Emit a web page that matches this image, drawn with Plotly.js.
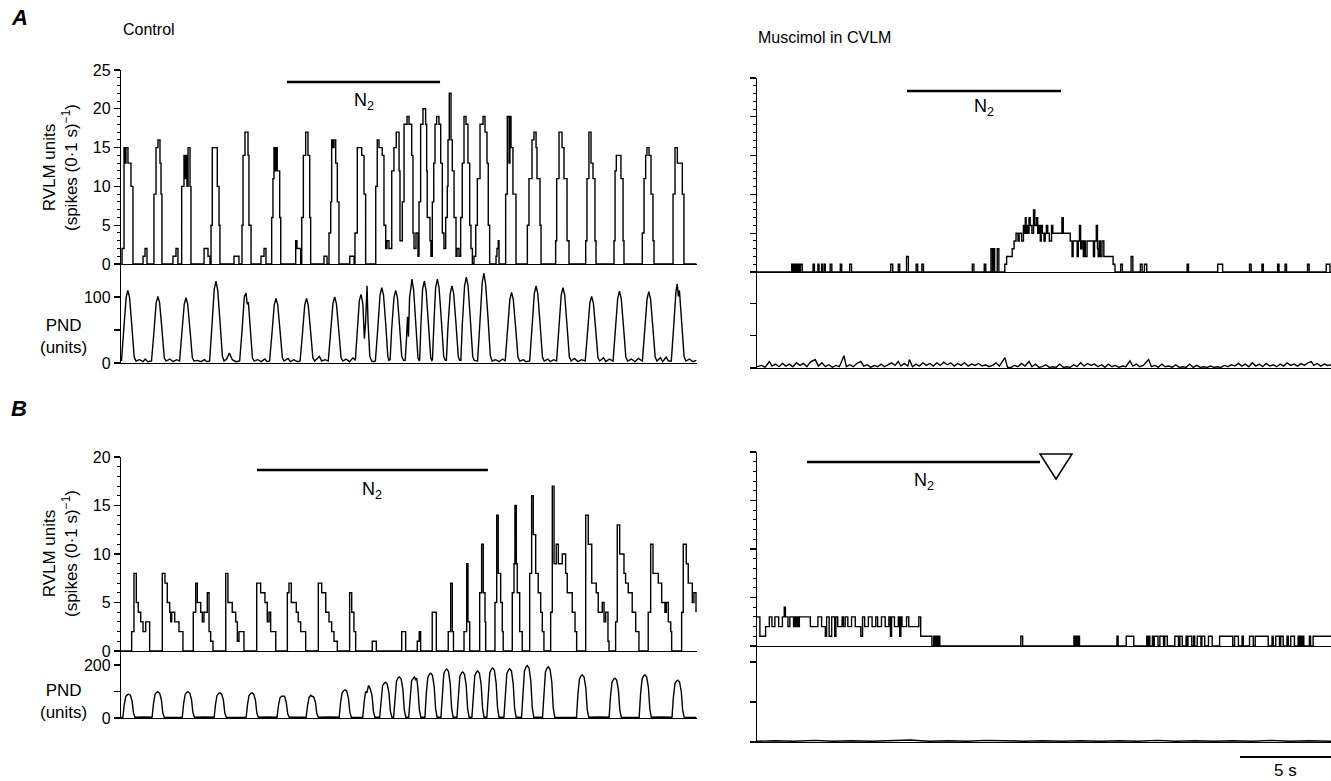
<!DOCTYPE html>
<html><head><meta charset="utf-8">
<script src="https://cdn.plot.ly/plotly-3.0.1.min.js"></script>
<style>html,body{margin:0;padding:0;background:#fff}#chart{width:1331px;height:781px}</style>
</head><body><div id="chart"></div>
<script>
// ---------------- DATA ----------------
// Times were read on a grid of 11.6 picture-px per unit; the 5-s scale bar spans 18.2 px per second.
const READ_UNIT_TO_SECONDS = 11.6 / 18.2;

// A, Control: RVLM unit histogram (spikes per 0.1 s), step trace breakpoints
const rvlm_A_ctrl_t = [0,0.09,0.26,0.34,0.43,0.60,0.86,1.03, 1.90,2.07,2.24, 2.84,3.02,3.19,3.36,3.45,3.53, 4.48,4.74,4.91,
 5.23,5.43,5.52,5.60,5.69,5.78,5.95,6.03, 7.16,7.50,7.67, 7.76,7.87,8.30,8.45,8.53, 9.74,10.17,
 10.43,10.52,10.69,10.95,11.03,11.21, 12.07,12.33,12.50, 12.99,13.10,13.19,13.28,13.36,13.47,13.68,13.77,
 15.06,15.17,15.49, 15.58,15.72,15.92,16.12,16.27,16.35, 17.50,17.76, 17.93,18.08,18.16,18.28,18.36,18.51,18.65,18.79,
 19.72,20.09, 20.17,20.37,20.75,20.95,21.09, 21.96,22.09,22.24,22.52,22.67,22.82,22.93,23.10,
 23.34,23.53,23.73,23.97,24.05, 24.25,24.40,24.66,24.83,25.06,25.17,25.26,25.43,25.60,
 25.69,25.83,26.03,26.26,26.35,26.40,26.64,26.72, 26.84,26.96,27.07,27.21,27.41,27.56,27.70,27.84,
 27.99,28.13,28.19,28.30,28.45,28.56,28.71,28.88,28.97,29.14, 29.28,29.42,29.57,29.74,29.91,30.06,30.17,30.29,
 30.43,30.58,30.72,30.95,31.21,31.38,31.55,31.66,31.78, 32.33,32.41,32.52,32.59,
 33.16,33.30,33.45,33.53,33.62,33.79,34.05, 35.03,35.17,35.43,35.60,35.78,35.86,36.12,36.21,
 37.47,37.56,37.76,38.02,38.19,38.45,38.62, 40.06,40.17,40.34,40.52,40.69,40.86,40.95,
 42.50,42.59,42.70,43.10,43.28,43.36, 44.94,45.09,45.23,45.34,45.52,45.69,45.86,45.95,
 47.59,47.76,47.96,48.39,48.53, 49.6];
const rvlm_A_ctrl_v = [0,2,15,13,15,13,10,0, 1,2,0, 9,15,16,13,9,0, 1,2,0,
 10,14,11,14,10,15,10,0, 2,1,0, 5,15,10,5,0, 1,0,
 5,14,17,14,5,0, 1,2,0, 6,11,15,12,15,12,6,0,
 3,2,0, 6,14,17,14,6,0, 1,0, 4,8,16,15,16,13,8,0,
 1,0, 4,15,14,9,0, 10,16,15,14,5,2,3,2,
 12,15,17,12,3, 8,18,19,18,14,4,2,4,1,
 8,18,20,18,12,6,3,1, 8,13,18,19,18,13,4,2,
 6,10,16,22,16,12,6,1,2,1, 6,13,19,18,13,5,2,0,
 1,5,11,18,19,17,13,5,0, 1,2,3,0,
 9,19,13,19,15,9,0, 5,11,16,17,15,11,5,0,
 3,11,17,15,11,3,0, 3,11,17,13,11,3,0,
 3,12,14,11,3,0, 4,11,14,15,14,9,3,0,
 9,15,13,9,0, 0];

// A, Control: phrenic nerve discharge (units)
const pnd_A_ctrl_t = [0.04,0.24,0.44,0.59,0.74,0.94,1.14,1.29,1.6,1.9,2.1,2.3,
 2.63,2.83,3.03,3.18,3.33,3.53,3.73,3.88,4.2,4.5,4.8,
 5.05,5.25,5.45,5.60,5.75,5.95,6.15,6.30,6.6,6.9,7.2,7.4,
 7.64,7.84,8.04,8.19,8.34,8.54,8.74,8.89,9.1,9.34,9.6,9.9,
 10.23,10.43,10.63,10.78,10.88,10.98,11.13,11.33,11.48,11.8,12.1,12.4,12.6,
 12.81,13.01,13.21,13.36,13.51,13.71,13.91,14.06,14.4,14.6,14.9,15.2,
 15.44,15.64,15.84,15.99,16.14,16.34,16.54,16.69,16.9,17.1,17.3,17.6,
 17.87,18.07,18.27,18.42,18.57,18.77,18.97,19.12,19.4,19.7,20.0,
 20.2,20.35,20.55,20.69,20.85,20.98,21.08,21.21,21.3,21.45,21.6,21.75,
 21.93,22.13,22.33,22.48,22.63,22.83,23.0,23.1,
 23.2,23.33,23.53,23.68,23.83,24.0,24.2,24.35,
 24.5,24.62,24.7,24.78,24.88,25.0,25.08,25.23,25.43,25.6,25.7,
 25.75,25.85,26.0,26.15,26.3,26.5,26.7,26.8,
 26.85,26.97,27.12,27.27,27.42,27.62,27.82,27.95,
 28.05,28.18,28.38,28.53,28.68,28.88,29.08,29.2,
 29.3,29.42,29.62,29.77,29.92,30.12,30.32,30.45,
 30.74,30.94,31.14,31.29,31.44,31.64,31.84,31.99,32.3,32.6,32.9,
 33.12,33.32,33.52,33.67,33.82,34.02,34.22,34.37,34.7,34.9,
 35.23,35.43,35.63,35.78,35.93,36.13,36.33,36.48,36.8,37.0,37.3,
 37.55,37.75,37.95,38.10,38.25,38.45,38.65,38.80,39.1,39.4,39.7,
 40.02,40.22,40.42,40.57,40.72,40.92,41.12,41.27,41.6,41.8,42.1,
 42.42,42.62,42.82,42.97,43.12,43.32,43.52,43.67,44.0,44.3,44.6,
 44.95,45.15,45.35,45.50,45.65,45.85,46.05,46.2,46.5,46.7,47.0,47.2,
 47.44,47.64,47.84,47.95,48.05,48.14,48.34,48.54,48.69,49.0,49.3,49.6];
const pnd_A_ctrl_v = [3,50,99,110,99,55,9,3,5,2,6,2,
 3,45,91,101,91,51,8,3,6,2,5,
 3,45,89,99,89,50,8,3,4,2,5,2,
 3,56,112,124,110,62,10,3,6,15,5,2,
 3,48,100,106,89,92,53,8,3,5,2,6,2,
 3,44,88,98,88,49,8,3,7,2,5,2,
 3,44,88,98,88,49,8,3,6,10,3,5,
 3,45,90,100,90,50,8,3,6,2,8,
 4,45,95,104,90,37,60,117,60,10,3,2,
 3,51,103,114,103,57,10,4,
 5,50,99,110,99,60,10,4,
 4,40,70,40,100,115,127,110,60,8,4,
 5,56,112,124,110,60,8,4,
 5,57,114,127,114,64,10,4,
 4,53,105,117,105,59,9,4,
 4,58,117,130,117,65,10,4,
 3,61,122,136,118,68,11,3,5,2,6,
 3,48,96,107,96,54,9,3,5,2,
 3,53,105,117,105,59,9,3,6,2,5,
 3,51,103,114,103,57,9,3,7,2,5,
 3,45,91,101,91,51,8,3,8,2,6,
 3,49,98,109,98,55,9,3,6,2,7,
 3,49,97,108,97,54,9,3,8,2,9,3,
 3,54,108,120,101,110,60,10,3,6,2,4];

// A, Muscimol in CVLM: RVLM unit histogram
const rvlm_A_musc_t = [0,2.99,3.05,3.10,3.15,3.25,3.30,3.38,3.48,3.57,3.65,3.75,3.90,
 4.83,4.95,5.25,5.35,5.57,5.65,5.80,5.89,6.31,6.45,7.18,7.30,7.99,8.15,
 11.53,11.70,12.18,12.30,12.89,13.05,13.72,13.85,14.21,14.35,
 18.56,18.70,19.59,19.72,20.17,20.30,20.38,20.49,20.71,20.85,
 21.36,21.52,22.00,22.16,22.33,22.50,22.60,22.81,22.97,23.05,23.13,23.20,23.29,23.37,23.45,23.55,23.61,23.70,23.84,23.95,
 24.10,24.20,24.30,24.42,24.50,24.60,24.74,24.85,24.95,25.06,25.20,25.39,25.50,25.71,26.03,26.29,26.40,27.00,27.16,27.25,
 27.48,27.60,27.70,27.80,27.90,28.00,28.13,28.20,28.30,28.45,28.77,29.00,29.10,29.25,29.35,29.41,29.50,29.60,29.74,29.90,30.70,30.86,
 31.35,31.50,32.25,32.40,33.05,33.20,33.40,33.60,37.08,37.20,39.72,40.14,42.46,42.60,43.53,43.65,44.88,45.00,45.52,45.65,47.46,47.60,49.07,49.39,49.5];
const rvlm_A_musc_v = [0,1,0,1,0,1,0,1,0,1,0,1,0,
 1,0,1,0,1,0,1,0,1,0,1,0,1,0,
 1,0,1,0,2,0,1,0,1,0,
 1,0,1,0,3,0,3,0,3,0,
 1,2,3,4,5,4,5,4,6,5,7,5,6,5,7,6,6,5,8,6,
 7,5,6,4,6,5,4,5,6,5,4,6,5,5,5,7,5,4,2,4,
 4,2,4,6,3,4,2,4,2,4,4,2,4,6,3,2,4,2,4,2,1,0,
 1,0,2,0,1,0,1,0,1,0,1,0,1,0,1,0,1,0,1,0,1,0,1,0,0];

// A, Muscimol in CVLM: phrenic nerve discharge
const pnd_A_musc_t = [0,0.4,0.7,1.06,1.3,1.6,1.9,2.2,2.5,2.8, 3.1,3.4,3.7,4.0,4.3,4.6,5.02,5.3,5.6,5.9,
 6.2,6.5,6.8,7.1,7.5,7.7,8.0,8.3,8.6,8.95, 9.2,9.5,9.8,10.1,10.4,10.7,11.0,11.3,11.6,11.9,
 12.18,12.4,12.7,13.0,13.14,13.4,13.7,14.0,14.3,14.6, 14.9,15.2,15.5,15.8,16.1,16.4,16.7,17.0,17.3,17.6,
 17.9,18.2,18.5,18.8,19.1,19.4,19.7,20.0,20.3,20.6, 20.9,21.36,21.6,21.9,22.2,22.5,22.8,23.1,23.45,23.7,
 24.0,24.3,24.6,24.9,25.2,25.5,25.8,26.1,26.4,26.7, 27.0,27.3,27.6,27.9,28.2,28.5,28.8,29.1,29.4,29.7,
 30.0,30.3,30.6,30.9,31.2,31.5,31.8,32.15,32.4,32.7, 33.0,33.3,33.76,34.0,34.3,34.6,34.9,35.2,35.5,35.8,
 36.1,36.4,36.7,37.0,37.3,37.6,37.9,38.2,38.5,38.8, 39.1,39.4,39.7,40.0,40.3,40.6,40.9,41.2,41.5,41.8,
 42.1,42.4,42.7,43.0,43.3,43.6,43.9,44.2,44.5,44.8, 45.1,45.4,45.7,46.0,46.3,46.6,46.9,47.2,47.5,47.78,
 48.0,48.3,48.6,48.9,49.2,49.5];
const pnd_A_musc_v = [2,4,1,10,3,6,2,7,3,6, 2,8,4,7,2,9,13,3,8,2,
 5,1,4,2,19,2,5,2,7,10, 3,5,1,4,2,6,2,5,8,4,
 10,3,7,3,13,2,6,3,8,4, 7,3,8,4,9,5,8,3,7,4,
 8,3,6,4,7,3,5,2,4,8, 3,16,1,1,4,2,7,3,10,2,
 6,1,2,5,1,2,1,6,1,2, 1,5,2,8,3,7,4,6,2,5,
 1,6,2,4,1,3,2,11,3,6, 2,4,13,2,4,1,6,2,3,1,
 5,1,2,1,6,1,4,1,2,1, 3,1,2,1,4,2,5,3,7,3,
 6,2,8,3,6,2,7,3,5,2, 6,3,8,4,6,3,7,4,8,10,
 4,7,3,6,4,5];

// B, Control: RVLM unit histogram
const rvlm_B_ctrl_t = [0,0.92,1.12,1.32,1.49,1.70,1.90,2.13,2.47,
 3.56,3.79,3.99,4.20,4.28,4.37,4.63,5.00,5.34,
 6.23,6.44,6.58,6.87,7.01,7.15,7.44,7.59,7.73,7.93,
 9.03,9.22,9.59,9.89,10.03,10.17,10.60,
 11.70,12.04,12.41,12.61,12.76,12.90,13.34,
 14.34,14.48,14.68,15.11,15.28,15.49,15.92,
 17.01,17.30,17.65,17.93,18.16,18.36,18.65,
 19.71,19.89,20.08,20.23, 21.66,22.01, 24.20,24.54, 25.54,25.71,25.83, 26.83,27.18,
 28.21,28.42,28.56,28.66, 29.57,29.80,29.91,30.06,
 30.92,31.09,31.23,31.38,31.44, 32.24,32.39,32.52,32.73,32.87,32.95,
 33.73,33.88,33.96,34.08,34.16,34.37,34.59,
 35.23,35.40,35.54,35.75,35.97,36.18,36.32,36.46,
 37.04,37.18,37.33,37.52,37.70,38.04,38.33,38.47,38.90,39.14,39.28,
 40.06,40.28,40.58,40.97,41.14,41.49,41.64,41.78,41.98,42.07,
 42.64,42.78,42.99,43.36,43.50,43.73,44.07,44.37,44.65,
 45.45,45.66,45.86,46.32,46.61,46.89,47.01,47.18,47.39,47.47,
 48.33,48.47,48.73,48.90,49.25,49.39,49.57];
const rvlm_B_ctrl_v = [0,2,8,5,4,3,2,3,0,
 8,7,5,4,3,4,3,2,0,
 4,7,5,4,3,4,6,2,1,0,
 8,5,4,3,1,2,0,
 7,6,5,3,4,2,0,
 6,7,5,4,3,2,0,
 7,6,4,3,2,1,0,
 6,4,2,0, 1,0, 2,0, 1,2,0, 4,0,
 2,7,2,0, 2,9,3,0,
 6,11,6,3,0, 5,14,8,5,2,0,
 6,9,15,9,6,2,0,
 8,16,12,8,6,4,2,0,
 4,17,9,11,9,10,8,6,4,2,0,
 14,11,7,6,4,5,3,4,1,0,
 3,13,10,8,7,6,4,2,0,
 4,11,8,7,5,4,5,3,2,0,
 4,11,9,7,5,6,4];

// B, Control: phrenic nerve discharge
const pnd_B_ctrl_t = [0,0.16,0.28,0.41,0.56,0.66,0.81,0.96,1.08,1.21,2.0,
 2.68,2.80,2.93,3.08,3.18,3.33,3.48,3.60,3.73,4.6,
 5.28,5.40,5.53,5.68,5.78,5.93,6.08,6.20,6.33,7.2,
 8.03,8.15,8.28,8.43,8.53,8.68,8.83,8.95,9.08,10.0,
 10.79,10.91,11.04,11.19,11.29,11.44,11.59,11.71,11.84,12.7,
 13.45,13.57,13.70,13.85,13.95,14.10,14.25,14.37,14.50,15.2,
 15.96,16.08,16.21,16.36,16.46,16.61,16.76,16.88,17.01,18.0,
 18.81,18.93,19.06,19.21,19.31,19.46,19.61,19.73,19.86,20.4,
 20.84,20.96,21.09,21.20,21.28,21.34,21.49,21.64,21.76,21.89,
 22.30,22.42,22.55,22.70,22.80,22.95,23.10,23.22,23.35,
 23.50,23.62,23.75,23.90,24.00,24.15,24.30,24.42,24.55,
 24.80,24.92,25.05,25.20,25.30,25.40,25.50,25.60,25.72,25.85,
 26.20,26.32,26.45,26.60,26.70,26.85,27.00,27.12,27.25,
 27.58,27.70,27.83,27.98,28.08,28.23,28.38,28.50,28.63,
 28.96,29.08,29.21,29.36,29.46,29.61,29.76,29.88,30.01,
 30.25,30.37,30.50,30.65,30.75,30.90,31.05,31.17,31.30,
 31.54,31.66,31.79,31.94,32.04,32.19,32.34,32.46,32.59,
 33.01,33.13,33.26,33.41,33.51,33.66,33.81,33.93,34.06,
 34.53,34.65,34.78,34.93,35.03,35.18,35.33,35.45,35.58,
 36.34,36.46,36.59,36.74,36.84,36.99,37.14,37.26,37.39,38.5,
 39.27,39.39,39.52,39.67,39.77,39.92,40.07,40.19,40.32,41.2,
 42.08,42.20,42.33,42.48,42.58,42.73,42.88,43.00,43.13,43.9,
 44.67,44.79,44.92,45.07,45.17,45.32,45.47,45.59,45.72,46.6,
 47.50,47.62,47.75,47.90,48.00,48.15,48.30,48.42,48.55,49.6];
const pnd_B_ctrl_v = [2,3,50,81,88,90,86,63,18,3,4,
 3,54,89,97,99,94,69,20,3,2,
 3,54,89,97,99,94,69,20,3,4,
 3,52,86,93,95,90,67,19,3,2,
 3,52,86,93,95,90,67,19,3,4,
 3,46,75,82,83,82,58,17,3,2,
 3,47,77,86,82,80,60,17,3,4,
 3,58,95,104,106,101,74,21,3,2,
 3,60,100,95,118,123,110,85,25,3,
 3,74,122,132,135,128,95,27,3,
 3,85,140,152,155,147,109,31,3,
 3,85,140,150,155,145,150,109,31,3,
 3,93,152,166,169,161,118,34,3,
 3,102,167,181,185,176,130,37,3,
 3,96,157,171,174,165,122,35,3,
 3,98,160,174,178,169,125,36,3,
 3,104,170,185,189,180,132,38,3,
 3,102,167,182,186,177,130,37,3,
 3,109,178,194,198,188,139,40,3,
 3,106,174,189,193,183,135,39,3,2,
 3,90,147,160,163,155,114,33,3,4,
 3,83,135,147,150,143,105,30,3,2,
 3,90,147,160,163,155,114,33,3,4,
 3,79,129,140,143,136,100,29,3,2];

// B, Muscimol in CVLM: RVLM unit histogram
const rvlm_B_musc_t = [0,0.25,0.74,1.06,1.29,1.54,1.87,2.19,2.35,2.45, 2.67,2.83,3.15,3.25,3.35,3.45,3.55,3.65,4.60,5.25,
 5.57,5.89,6.00,6.22,6.44,6.70,6.80,6.96,7.34,7.45, 7.60,7.83,8.15,8.47,8.95,9.10,9.28,9.60,9.92,10.24,
 10.40,10.73,11.05,11.37,11.50,11.60,11.85,12.18,12.30,12.40, 12.50,12.89,13.08,13.95,14.11,15.08,
 15.24,15.35,15.46,15.56,15.66,15.76,22.74,22.90,27.32,27.42, 27.50,27.60,27.70,27.80,31.03,31.13,31.83,32.48,33.60,33.70,
 33.76,33.86,34.09,34.19,34.25,34.57,34.73,35.05,35.15,35.37, 36.02,36.34,36.45,36.66,36.99,37.09,37.15,37.47,37.63,37.73,
 37.95,38.27,38.35,38.60,38.92,39.24,39.88,41.01,41.17,41.50, 41.82,41.92,42.46,42.78,42.95,44.07,44.40,44.50,44.72,45.04,
 45.15,45.36,45.69,45.80,46.01,46.33,46.65,46.75,46.85,46.95, 47.05,47.14,47.62,47.72,47.94,49.5];
const rvlm_B_musc_v = [3,1,2,3,2,3,2,3,4,3, 2,3,2,3,2,3,2,3,2,3,
 2,1,3,1,3,1,3,2,3,2, 3,2,3,2,1,3,2,3,2,3,
 2,3,2,3,1,3,2,3,1,3, 2,3,2,3,1,0,
 1,0,1,0,1,0,1,0,1,0, 1,0,1,0,1,0,1,0,1,0,
 1,0,1,0,1,0,1,0,1,0, 1,0,1,0,1,0,1,0,1,0,
 1,0,1,0,1,0,1,0,1,0, 1,0,1,0,1,0,1,0,1,0,
 1,0,1,0,1,0,1,0,1,0, 1,0,1,0,1,1];

// B, Muscimol in CVLM: phrenic nerve discharge (flat)
const pnd_B_musc_t = [0,1.5,3.2,5.0,6.6,8.1,9.9,11.4,13.2,14.8,16.5,18.1,19.7,21.4,23.0,24.6,26.3,27.9,29.6,31.2,32.8,34.5,36.1,37.8,39.4,41.0,42.7,44.3,46.0,47.6,49.5];
const pnd_B_musc_v = [2,3,2,4,2,3,2,3,5,2,3,2,4,3,2,3,2,3,2,3,2,4,2,3,2,3,2,4,2,3,2];

// N2 (hypoxia) periods, seconds from panel start [start, end]
const n2_A_ctrl = [9.12, 17.53];
const n2_A_musc = [8.24, 16.70];
const n2_B_ctrl = [7.47, 20.16];
const n2_B_musc = [2.75, 15.55];
const scaleBarSeconds = 5;

// ---------------- LAYOUT ----------------
const W = 1331, H = 781;
const FONT = 'Liberation Sans, Arial, Helvetica, sans-serif';
const fx = px => px / W;
const fy = py => 1 - py / H;
const toSec = arr => arr.map(t => t * READ_UNIT_TO_SECONDS);

const LEFT_DOM = [fx(121), fx(697)], RIGHT_DOM = [fx(757), 1];
const LEFT_RANGE = [0, (697 - 121) / 18.2], RIGHT_RANGE = [0, (1331 - 757) / 18.2];

function xa(dom, anchor, range) {
  return {domain: dom, anchor: anchor, range: range, showline: true, linecolor: '#000', linewidth: 1.2,
    ticks: '', showticklabels: false, showgrid: false, zeroline: false, fixedrange: true};
}
function ya(dom, anchor, range, extra) {
  return Object.assign({domain: dom, anchor: anchor, range: range, showline: true, linecolor: '#000', linewidth: 1.2,
    ticks: 'outside', ticklen: 6, tickwidth: 1.2, tickcolor: '#000', showgrid: false, zeroline: false, fixedrange: true,
    tickfont: {family: FONT, size: 16, color: '#000'}}, extra);
}
const minor1 = {dtick: 1, ticks: 'outside', ticklen: 3, tickwidth: 1, tickcolor: '#000', showgrid: false};

function line(t, v, xr, yr, shape) {
  return {x: toSec(t), y: v, xaxis: xr, yaxis: yr, mode: 'lines', hoverinfo: 'skip',
    line: {color: '#000', width: 1.4, shape: shape}};
}

const data = [
  line(rvlm_A_ctrl_t, rvlm_A_ctrl_v, 'x', 'y', 'hv'),
  line(pnd_A_ctrl_t, pnd_A_ctrl_v, 'x2', 'y2', 'linear'),
  line(rvlm_A_musc_t, rvlm_A_musc_v, 'x3', 'y3', 'hv'),
  line(pnd_A_musc_t, pnd_A_musc_v, 'x4', 'y4', 'linear'),
  line(rvlm_B_ctrl_t, rvlm_B_ctrl_v, 'x5', 'y5', 'hv'),
  line(pnd_B_ctrl_t, pnd_B_ctrl_v, 'x6', 'y6', 'linear'),
  line(rvlm_B_musc_t, rvlm_B_musc_v, 'x7', 'y7', 'hv'),
  line(pnd_B_musc_t, pnd_B_musc_v, 'x8', 'y8', 'linear')
];

const txt = (text, x, y, size, xanchor, extra) => Object.assign({text: text, x: x, y: y, xref: 'paper', yref: 'paper',
  showarrow: false, xanchor: xanchor || 'center', yanchor: 'middle', font: {family: FONT, size: size, color: '#000'}}, extra || {});
const n2label = (xr, period, py) => ({text: 'N<sub>2</sub>', x: (period[0] + period[1]) / 2, y: fy(py), xref: xr, yref: 'paper',
  showarrow: false, xanchor: 'center', yanchor: 'middle', font: {family: FONT, size: 18, color: '#000'}});
const n2bar = (xr, period, py) => ({type: 'line', xref: xr, yref: 'paper', x0: period[0], x1: period[1], y0: fy(py), y1: fy(py),
  line: {color: '#000', width: 2.6}});

const yTitle = 'RVLM units<br>(spikes (0·1 s)<sup>−1</sup>)';

const layout = {
  width: W, height: H, margin: {l: 0, r: 0, t: 0, b: 0}, paper_bgcolor: '#fff', plot_bgcolor: 'rgba(0,0,0,0)',
  showlegend: false, font: {family: FONT, color: '#000'},
  xaxis: xa(LEFT_DOM, 'y', LEFT_RANGE),
  xaxis2: xa(LEFT_DOM, 'y2', LEFT_RANGE),
  xaxis3: xa(RIGHT_DOM, 'y3', RIGHT_RANGE),
  xaxis4: xa(RIGHT_DOM, 'y4', RIGHT_RANGE),
  xaxis5: xa(LEFT_DOM, 'y5', LEFT_RANGE),
  xaxis6: xa(LEFT_DOM, 'y6', LEFT_RANGE),
  xaxis7: xa(RIGHT_DOM, 'y7', RIGHT_RANGE),
  xaxis8: xa(RIGHT_DOM, 'y8', RIGHT_RANGE),
  yaxis: ya([fy(264), fy(70)], 'x', [0, 25], {tick0: 0, dtick: 5, minor: minor1}),
  yaxis2: ya([fy(363), fy(264)], 'x2', [0, 150], {tickvals: [0, 50, 100], ticktext: ['0', ' ', '100']}),
  yaxis3: ya([fy(272), fy(78)], 'x3', [0, 25], {tick0: 0, dtick: 5, minor: minor1, showticklabels: false}),
  yaxis4: ya([fy(368), fy(272)], 'x4', [0, 148], {tickvals: [0, 50, 100], showticklabels: false}),
  yaxis5: ya([fy(651), fy(457)], 'x5', [0, 20], {tick0: 0, dtick: 5, minor: minor1}),
  yaxis6: ya([fy(718), fy(651)], 'x6', [0, 253], {tickvals: [0, 100, 200], ticktext: ['0', ' ', '200']}),
  yaxis7: ya([fy(646), fy(452)], 'x7', [0, 20], {tick0: 0, dtick: 5, minor: minor1, showticklabels: false}),
  yaxis8: ya([fy(742), fy(646)], 'x8', [0, 240], {tickvals: [0, 100, 200], showticklabels: false}),
  annotations: [
    txt('<b><i>A</i></b>', fx(9), fy(18), 22, 'left'),
    txt('<b><i>B</i></b>', fx(9), fy(408), 22, 'left'),
    txt('Control', fx(121), fy(30), 16, 'left'),
    txt('Muscimol in CVLM', fx(756), fy(38), 16, 'left'),
    txt(yTitle, fx(60), fy(168), 17, 'center', {textangle: -90}),
    txt(yTitle, fx(60), fy(554), 17, 'center', {textangle: -90}),
    txt('PND<br>(units)', fx(63), fy(336), 17, 'center'),
    txt('PND<br>(units)', fx(63), fy(701), 17, 'center'),
    n2label('x', n2_A_ctrl, 101),
    n2label('x3', n2_A_musc, 108),
    n2label('x5', n2_B_ctrl, 490),
    n2label('x7', n2_B_musc, 481),
    {text: scaleBarSeconds + ' s', x: RIGHT_RANGE[1] - scaleBarSeconds / 2, y: fy(770), xref: 'x8', yref: 'paper',
      showarrow: false, xanchor: 'center', yanchor: 'middle', font: {family: FONT, size: 17, color: '#000'}}
  ],
  shapes: [
    n2bar('x', n2_A_ctrl, 82),
    n2bar('x3', n2_A_musc, 91),
    n2bar('x5', n2_B_ctrl, 470),
    n2bar('x7', n2_B_musc, 462),
    {type: 'path', xref: 'x7', yref: 'paper',
      path: 'M ' + n2_B_musc[1] + ',' + fy(454) + ' L ' + (n2_B_musc[1] + 1.76) + ',' + fy(454) + ' L ' + (n2_B_musc[1] + 0.88) + ',' + fy(479) + ' Z',
      line: {color: '#000', width: 1.5}, fillcolor: 'rgba(0,0,0,0)'},
    {type: 'line', xref: 'x8', yref: 'paper', x0: RIGHT_RANGE[1] - scaleBarSeconds, x1: RIGHT_RANGE[1], y0: fy(757), y1: fy(757),
      line: {color: '#000', width: 2}}
  ]
};

Plotly.newPlot('chart', data, layout, {staticPlot: true, displayModeBar: false});
</script></body></html>
